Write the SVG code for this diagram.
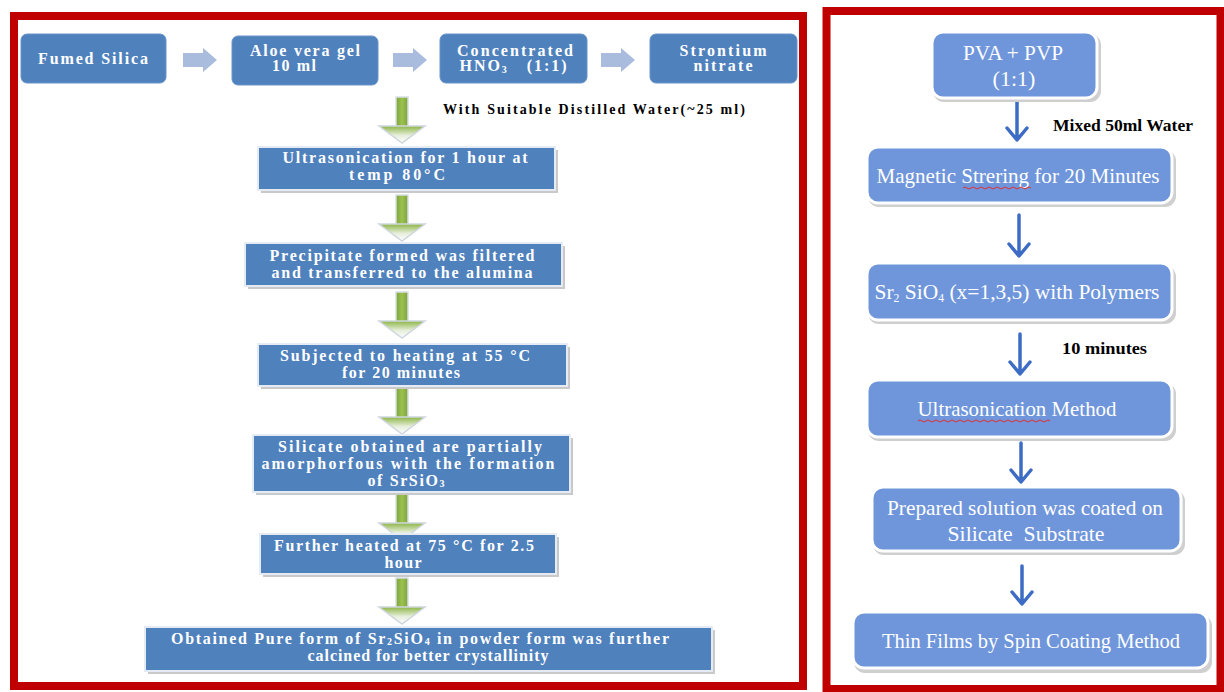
<svg xmlns="http://www.w3.org/2000/svg" width="1224" height="692" viewBox="0 0 1224 692">
<defs>
<style>
.frame{fill:none;stroke:#C00000;stroke-width:8}
.tb{fill:#4F81BD;stroke:#6A94C8;stroke-width:1}
.vb{fill:#4F81BD;stroke:#E4EBF5;stroke-width:2}
.sh{fill:#C9C9C9}
.lt{font-family:"Liberation Serif",serif;font-weight:bold;font-size:16px;fill:#FFFFFF;text-anchor:middle}
.lab{font-family:"Liberation Serif",serif;font-weight:bold;font-size:14px;fill:#000}
.rb{fill:#6F96DB;stroke:#FFFFFF;stroke-width:3}
.rsh{fill:#CFCFCF}
.rt{font-family:"Liberation Serif",serif;font-size:22px;fill:#FFFFFF;text-anchor:middle}
.rlab{font-family:"Liberation Serif",serif;font-weight:bold;font-size:16px;fill:#000}
.garr{fill:#A9BCDD}
.shaft{fill:url(#gs);stroke:#D8DEE8;stroke-width:1.5}
.head{fill:url(#gh);stroke:#D0D6DE;stroke-width:1.5}
.barr{fill:none;stroke:#3D6CC4;stroke-width:3.5;stroke-linecap:round;stroke-linejoin:round}
.squig{fill:none;stroke:#E03030;stroke-width:1}
</style>
<linearGradient id="gs" x1="0" y1="0" x2="1" y2="0">
<stop offset="0" stop-color="#7FA33A"/><stop offset="0.5" stop-color="#9BC24E"/><stop offset="1" stop-color="#7FA33A"/>
</linearGradient>
<linearGradient id="gh" x1="0" y1="0" x2="0" y2="1">
<stop offset="0" stop-color="#8DB545"/><stop offset="0.55" stop-color="#E6EEDA"/><stop offset="1" stop-color="#FFFFFF"/>
</linearGradient>
<g id="ga">
<rect class="shaft" x="-6" y="0" width="12" height="30"/>
<path class="head" d="M-23,29 L23,29 L0,46 Z"/>
</g>
<path id="gr" class="garr" d="M0,-7 L20,-7 L20,-12 L34,0 L20,12 L20,7 L0,7 Z"/>
</defs>
<rect width="1224" height="692" fill="#FFFFFF"/>

<g id="frames">
<rect class="frame" x="14" y="16" width="789" height="670"/>
<rect class="frame" x="826.5" y="11" width="394" height="678"/>
</g>

<g id="connectors">
<use href="#gr" x="183" y="60"/>
<use href="#gr" x="393" y="60"/>
<use href="#gr" x="601" y="60"/>
<use href="#ga" x="402" y="97"/>
<use href="#ga" x="402" y="195"/>
<use href="#ga" x="402" y="292"/>
<use href="#ga" x="402" y="388"/>
<use href="#ga" x="402" y="494"/>
<use href="#ga" x="402" y="578"/>
<path class="barr" d="M1017,101 V139 M1007,128 L1017,140 L1027,128"/>
<path class="barr" d="M1019,215 V255 M1009,244 L1019,256 L1029,244"/>
<path class="barr" d="M1020,334 V373 M1010,362 L1020,374 L1030,362"/>
<path class="barr" d="M1021,443 V481 M1011,470 L1021,482 L1031,470"/>
<path class="barr" d="M1022,566 V603 M1012,592 L1022,604 L1032,592"/>
</g>

<g id="n-fumed">
<rect class="tb" x="21" y="34" width="145" height="49" rx="6"/>
<text class="lt" x="93" y="64" textLength="110" lengthAdjust="spacing">Fumed Silica</text>
</g>
<g id="n-aloe">
<rect class="tb" x="232" y="36" width="146" height="49" rx="6"/>
<text class="lt" x="305" y="56" textLength="110" lengthAdjust="spacing">Aloe vera gel</text>
<text class="lt" x="294" y="71" textLength="44" lengthAdjust="spacing">10 ml</text>
</g>
<g id="n-hno3">
<rect class="tb" x="440" y="34" width="147" height="49" rx="6"/>
<text class="lt" x="515" y="56" textLength="116" lengthAdjust="spacing">Concentrated</text>
<text class="lt" x="513" y="71" textLength="107" lengthAdjust="spacing" xml:space="preserve">HNO<tspan font-size="10" dy="2">3</tspan><tspan dy="-2">   (1:1)</tspan></text>
</g>
<g id="n-sr">
<rect class="tb" x="650" y="34" width="147" height="49" rx="6"/>
<text class="lt" x="723" y="56" textLength="87" lengthAdjust="spacing">Strontium</text>
<text class="lt" x="723" y="71" textLength="59" lengthAdjust="spacing">nitrate</text>
</g>
<text class="lab" x="443" y="114" textLength="302" lengthAdjust="spacing">With  Suitable Distilled Water(~25 ml)</text>

<g id="n-ultra">
<rect class="sh" x="261" y="150" width="297" height="43"/>
<rect class="vb" x="258" y="147" width="297" height="43"/>
<text class="lt" x="405" y="163" textLength="245" lengthAdjust="spacing">Ultrasonication for 1 hour at</text>
<text class="lt" x="397" y="180" textLength="96" lengthAdjust="spacing">temp 80°C</text>
</g>
<g id="n-precip">
<rect class="sh" x="248" y="246" width="317" height="43"/>
<rect class="vb" x="245" y="243" width="317" height="43"/>
<text class="lt" x="402" y="261" textLength="265" lengthAdjust="spacing">Precipitate formed was filtered</text>
<text class="lt" x="402" y="278" textLength="261" lengthAdjust="spacing">and transferred to the alumina</text>
</g>
<g id="n-subj">
<rect class="sh" x="261" y="347" width="309" height="42"/>
<rect class="vb" x="258" y="344" width="309" height="42"/>
<text class="lt" x="405" y="361" textLength="250" lengthAdjust="spacing">Subjected to heating at 55 °C</text>
<text class="lt" x="401" y="378" textLength="118" lengthAdjust="spacing">for 20 minutes</text>
</g>
<g id="n-silicate">
<rect class="sh" x="256" y="438" width="317" height="57"/>
<rect class="vb" x="253" y="435" width="317" height="57"/>
<text class="lt" x="410" y="452" textLength="264" lengthAdjust="spacing">Silicate obtained are partially</text>
<text class="lt" x="408" y="469" textLength="293" lengthAdjust="spacing">amorphorfous with the formation</text>
<text class="lt" x="406" y="486" textLength="77" lengthAdjust="spacing">of SrSiO<tspan font-size="10" dy="1">3</tspan></text>
</g>
<g id="n-further">
<rect class="sh" x="263" y="537" width="296" height="40"/>
<rect class="vb" x="260" y="534" width="296" height="40"/>
<text class="lt" x="404" y="551" textLength="260" lengthAdjust="spacing">Further heated at 75 °C for 2.5</text>
<text class="lt" x="403" y="568" textLength="37" lengthAdjust="spacing">hour</text>
</g>
<g id="n-obtained">
<rect class="sh" x="148" y="630" width="567" height="44"/>
<rect class="vb" x="145" y="627" width="567" height="44"/>
<text class="lt" x="420" y="644" textLength="498" lengthAdjust="spacing">Obtained Pure form of Sr<tspan font-size="10" dy="1">2</tspan><tspan dy="-1">SiO</tspan><tspan font-size="10" dy="1">4</tspan><tspan dy="-1"> in powder form was further</tspan></text>
<text class="lt" x="428" y="661" textLength="241" lengthAdjust="spacing">calcined for better crystallinity</text>
</g>

<g id="n-pva">
<rect class="rsh" x="933" y="34" width="168" height="68" rx="11"/>
<rect class="rb" x="932" y="32" width="165" height="66" rx="11"/>
<text class="rt" x="1013" y="60" textLength="100" lengthAdjust="spacingAndGlyphs">PVA + PVP</text>
<text class="rt" x="1014" y="86">(1:1)</text>
</g>
<text class="rlab" x="1053" y="131" textLength="140" lengthAdjust="spacingAndGlyphs">Mixed 50ml Water</text>

<g id="n-magnetic">
<rect class="rsh" x="868" y="150" width="308" height="57" rx="11"/>
<rect class="rb" x="867" y="147" width="305" height="56" rx="11"/>
<text class="rt" x="1018" y="183" textLength="283" lengthAdjust="spacingAndGlyphs">Magnetic Strering for 20 Minutes</text>
<path class="squig" d="M963,188 q2,-2 4,0 t4,0 t4,0 t4,0 t4,0 t4,0 t4,0 t4,0 t4,0 t4,0 t4,0 t4,0 t4,0 t4,0 t4,0 t4,0 t4,0"/>
</g>
<g id="n-sr2">
<rect class="rsh" x="868" y="266" width="308" height="58" rx="11"/>
<rect class="rb" x="867" y="263" width="305" height="57" rx="11"/>
<text class="rt" x="1017" y="299" textLength="285" lengthAdjust="spacingAndGlyphs">Sr<tspan font-size="12" dy="3">2</tspan><tspan dy="-3"> SiO</tspan><tspan font-size="12" dy="3">4</tspan><tspan dy="-3"> (x=1,3,5) with Polymers</tspan></text>
</g>
<text class="rlab" x="1062" y="354" textLength="85" lengthAdjust="spacingAndGlyphs">10 minutes</text>

<g id="n-ultramethod">
<rect class="rsh" x="868" y="383" width="308" height="58" rx="11"/>
<rect class="rb" x="867" y="380" width="305" height="57" rx="11"/>
<text class="rt" x="1017" y="416" textLength="199" lengthAdjust="spacingAndGlyphs">Ultrasonication Method</text>
<path class="squig" d="M918,421 q2,-2 4,0 t4,0 t4,0 t4,0 t4,0 t4,0 t4,0 t4,0 t4,0 t4,0 t4,0 t4,0 t4,0 t4,0 t4,0 t4,0 t4,0 t4,0 t4,0 t4,0 t4,0 t4,0 t4,0 t4,0 t4,0 t4,0 t4,0 t4,0 t4,0 t4,0 t4,0 t4,0 t4,0"/>
</g>
<g id="n-prepared">
<rect class="rsh" x="873" y="490" width="312" height="65" rx="11"/>
<rect class="rb" x="872" y="487" width="309" height="64" rx="11"/>
<text class="rt" x="1025" y="515" textLength="276" lengthAdjust="spacingAndGlyphs">Prepared solution was coated on</text>
<text class="rt" x="1026" y="541" textLength="157" lengthAdjust="spacingAndGlyphs" xml:space="preserve">Silicate  Substrate</text>
</g>
<g id="n-thin">
<rect class="rsh" x="854" y="615" width="358" height="58" rx="11"/>
<rect class="rb" x="853" y="612" width="355" height="56" rx="11"/>
<text class="rt" x="1031" y="648" textLength="298" lengthAdjust="spacingAndGlyphs">Thin Films by Spin Coating Method</text>
</g>
</svg>
